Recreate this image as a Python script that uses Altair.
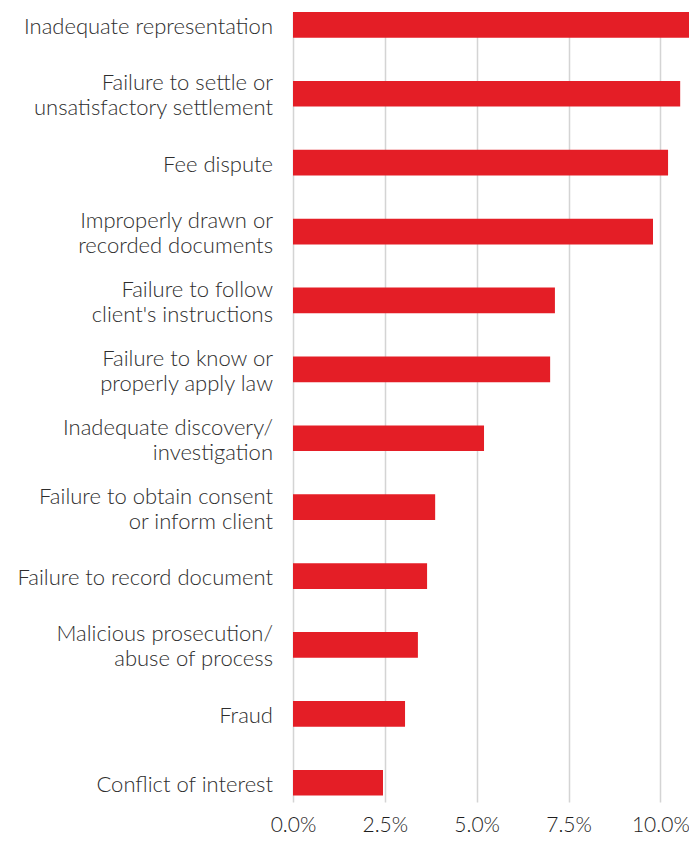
import altair as alt
import pandas as pd

categories = [
    "Inadequate representation",
    "Failure to settle or\nunsatisfactory settlement",
    "Fee dispute",
    "Improperly drawn or\nrecorded documents",
    "Failure to follow\nclient's instructions",
    "Failure to know or\nproperly apply law",
    "Inadequate discovery/\ninvestigation",
    "Failure to obtain consent\nor inform client",
    "Failure to record document",
    "Malicious prosecution/\nabuse of process",
    "Fraud",
    "Conflict of interest",
]
values = [11.0, 10.54, 10.21, 9.80, 7.13, 7.0, 5.20, 3.87, 3.65, 3.40, 3.05, 2.45]
tick_values = [0, 2.5, 5, 7.5, 10]

df = pd.DataFrame({"category": categories, "value": values})

rows = []
for c in categories:
    parts = c.split("\n")
    if len(parts) == 1:
        rows.append({"category": c, "text": parts[0], "pos": "single"})
    else:
        rows.append({"category": c, "text": parts[0], "pos": "top"})
        rows.append({"category": c, "text": parts[1], "pos": "bottom"})
labels_df = pd.DataFrame(rows)

FONT = "Lato"
LABEL_SIZE = 22
LINE = 12.5
SHIFT = 2

yscale = alt.Scale(paddingInner=0.627, paddingOuter=0.0465, align=0)

bars = alt.Chart(df).mark_bar(color="#E41E26").encode(
    x=alt.X(
        "value:Q",
        scale=alt.Scale(domain=[0, 10.78], nice=False, clamp=True),
        axis=alt.Axis(
            values=tick_values,
            title=None,
            grid=True,
            gridColor="#d4d4d4",
            gridWidth=1.5,
            ticks=False,
            domain=False,
            labelExpr="format(datum.value, '.1f') + '%'",
            labelFont=FONT,
            labelFontSize=21,
            labelFontWeight=300,
            labelColor="#1e1e1e",
            labelPadding=12,
            labelFlush=False,
        ),
    ),
    y=alt.Y("category:N", sort=categories, scale=yscale, axis=None),
)


def text_layer(pos, dy):
    return (
        alt.Chart(labels_df)
        .transform_filter(alt.datum.pos == pos)
        .mark_text(
            align="right",
            baseline="middle",
            dy=dy,
            font=FONT,
            fontSize=LABEL_SIZE,
            fontWeight=300,
            color="#2e2e2e",
        )
        .encode(
            x=alt.value(-20),
            y=alt.Y("category:N", sort=categories, scale=yscale, axis=None),
            text="text:N",
        )
    )


chart = (
    alt.layer(
        bars,
        text_layer("single", SHIFT),
        text_layer("top", SHIFT - LINE),
        text_layer("bottom", SHIFT + LINE),
    )
    .properties(
        width=396,
        height=790,
        autosize=alt.AutoSizeParams(type="none"),
        padding={"left": 285, "top": 4, "right": 0, "bottom": 34},
    )
    .configure_view(stroke=None)
)

chart.save("out.html", embed_options={"renderer": "svg", "actions": False})
